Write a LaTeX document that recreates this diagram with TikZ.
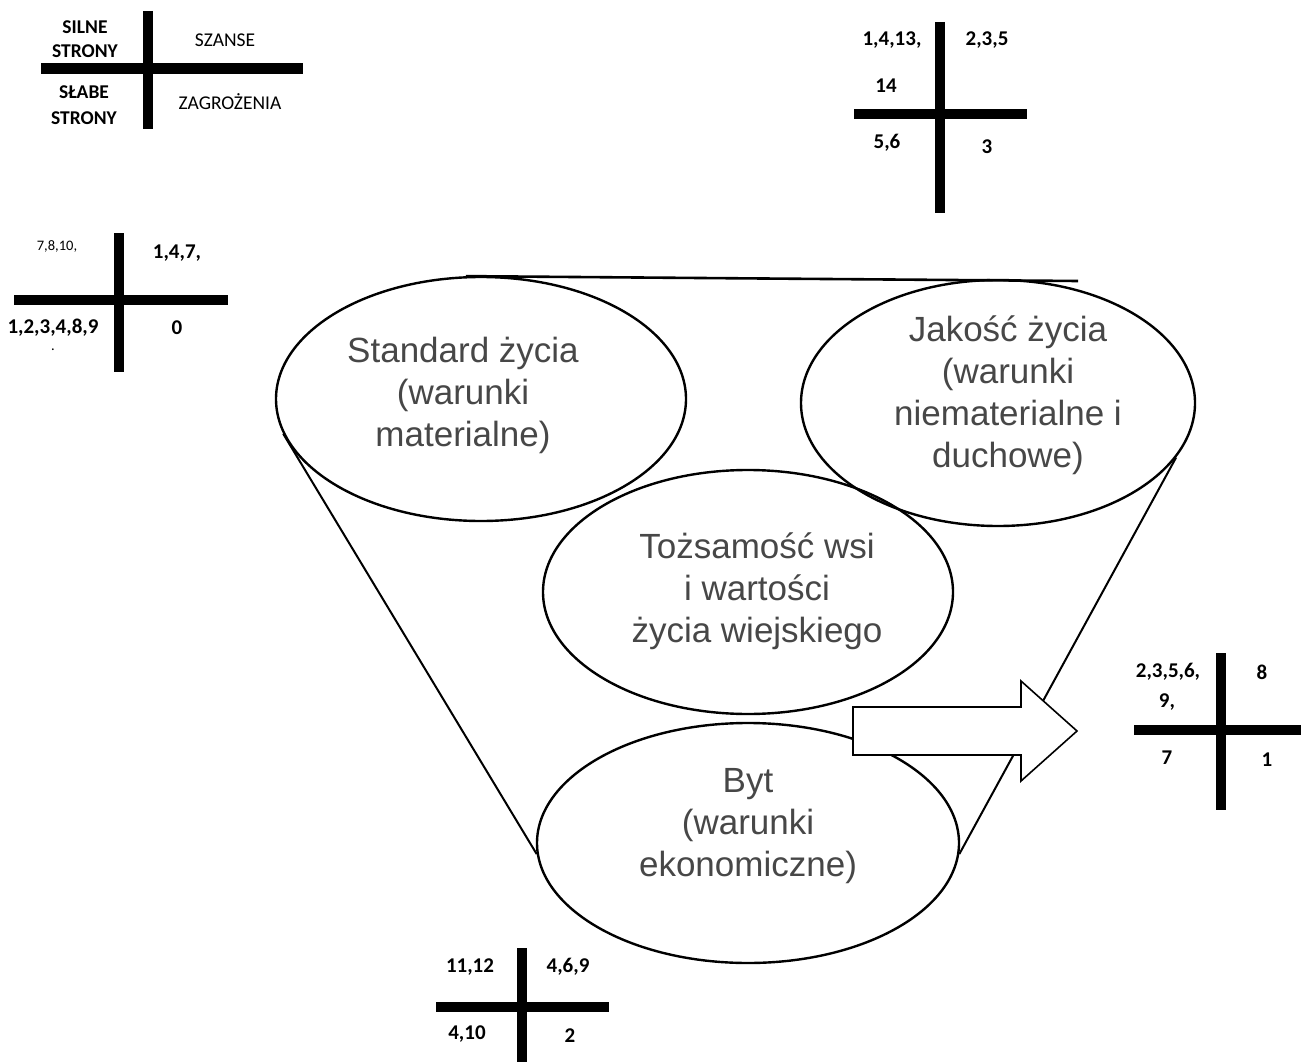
\documentclass[tikz,border=0pt]{standalone}
\usepackage{fontspec}
\setmainfont{Liberation Sans}
\newfontfamily\calibri{Carlito}
\usetikzlibrary{shapes.geometric}

\begin{document}
\begin{tikzpicture}[
    x=1pt, y=-1pt,
    oval/.style={ellipse, draw, line width=2.4pt, minimum width=410pt, minimum height=244pt, inner sep=0pt},
    ovaltext/.style={align=center, text=black!72, font=\fontsize{35}{42}\selectfont},
    side/.style={line width=2pt},
    bar/.style={line width=10.5pt},
    tag/.style={align=center, font=\calibri\fontsize{19.5}{24.5}\selectfont},
    num/.style={font=\calibri\bfseries\fontsize{21}{24}\selectfont},
    small/.style={font=\calibri\fontsize{14.5}{16}\selectfont},
    blockarrow/.style={draw, fill=white, line width=1.6pt, line join=miter}]
    \useasboundingbox (0,0) rectangle (1301,1062);

    % Ovals
    \node[oval] (standard) at (481,399) {};
    \node[oval, minimum width=394pt, minimum height=246pt] (jakosc) at (998,403) {};
    \node[oval] (tozsamosc) at (748,592) {};
    \node[oval, minimum width=422pt, minimum height=240pt] (byt) at (748,843) {};

    \node[ovaltext] (standardtxt) at (463,395) {Standard życia\\(warunki\\materialne)};
    \node[ovaltext] (jakosctxt) at (1008,395) {Jakość życia\\(warunki\\niematerialne i\\duchowe)};
    \node[ovaltext] (tozsamosctxt) at (757,591) {Tożsamość wsi\\i wartości\\życia wiejskiego};
    \node[ovaltext] (byttxt) at (748,826) {Byt\\(warunki\\ekonomiczne)};

    % Funnel
    \coordinate (topend) at (1078,281);
    \draw[side, line width=2.6pt] (standard.97) -- (topend);
    \draw[side] (standard.190) -- (byt.183);
    \draw[side] (jakosc.343) -- (byt.357);

    % Arrow
    \coordinate (arrowtail) at (853,731);
    \draw[blockarrow] (arrowtail) ++(0,-24) -- ++(168,0) -- ++(0,-26) -- ++(56,50)
        -- ++(-56,50) -- ++(0,-26) -- ++(-168,0) -- cycle;

    % Legend
    \draw[bar] (148,11) -- (148,129);
    \draw[bar] (41,68.5) -- (303,68.5);
    \node[tag, font=\calibri\bfseries\fontsize{19.5}{24.5}\selectfont] (silne) at (85,39) {SILNE\\STRONY};
    \node[tag] (szanse) at (225,40) {SZANSE};
    \node[tag, font=\calibri\bfseries\fontsize{19.5}{25.5}\selectfont] (slabe) at (84,105) {SŁABE\\STRONY};
    \node[tag] (zagrozenia) at (230,102) {ZAGROŻENIA};

    % Cross: Jakość
    \draw[bar] (940,22) -- (940,213);
    \draw[bar] (854,114) -- (1027,114);
    \node[num] (jS) at (892,40) {1,4,13,};
    \node[num] (jS2) at (886,86) {14};
    \node[num] (jO) at (987,40) {2,3,5};
    \node[num] (jW) at (887,143) {5,6};
    \node[num] (jT) at (987,147) {3};

    % Cross: Standard
    \draw[bar] (119,233) -- (119,372);
    \draw[bar] (14,300) -- (228,300);
    \node[small] (sS) at (57,246) {7,8,10,};
    \node[num] (sO) at (177,253) {1,4,7,};
    \node[num] (sW) at (53,328) {1,2,3,4,8,9};
    \node[num] (sT) at (177,328) {0};
    \node[small, inner sep=0pt] (sDot) at (53,350) {.};

    % Cross: Tożsamość
    \draw[bar] (1221,653) -- (1221,810);
    \draw[bar] (1134,730) -- (1301,730);
    \node[num] (tS) at (1168,672) {2,3,5,6,};
    \node[num] (tS2) at (1167,702) {9,};
    \node[num] (tO) at (1262,672) {8};
    \node[num] (tW) at (1167,758) {7};
    \node[num] (tT) at (1267,760) {1};

    % Cross: Byt
    \draw[bar] (522,948) -- (522,1062);
    \draw[bar] (436,1007) -- (609,1007);
    \node[num] (bS) at (470,967) {11,12};
    \node[num] (bO) at (568,967) {4,6,9};
    \node[num] (bW) at (467,1034) {4,10};
    \node[num] (bT) at (570,1036) {2};
\end{tikzpicture}
\end{document}
